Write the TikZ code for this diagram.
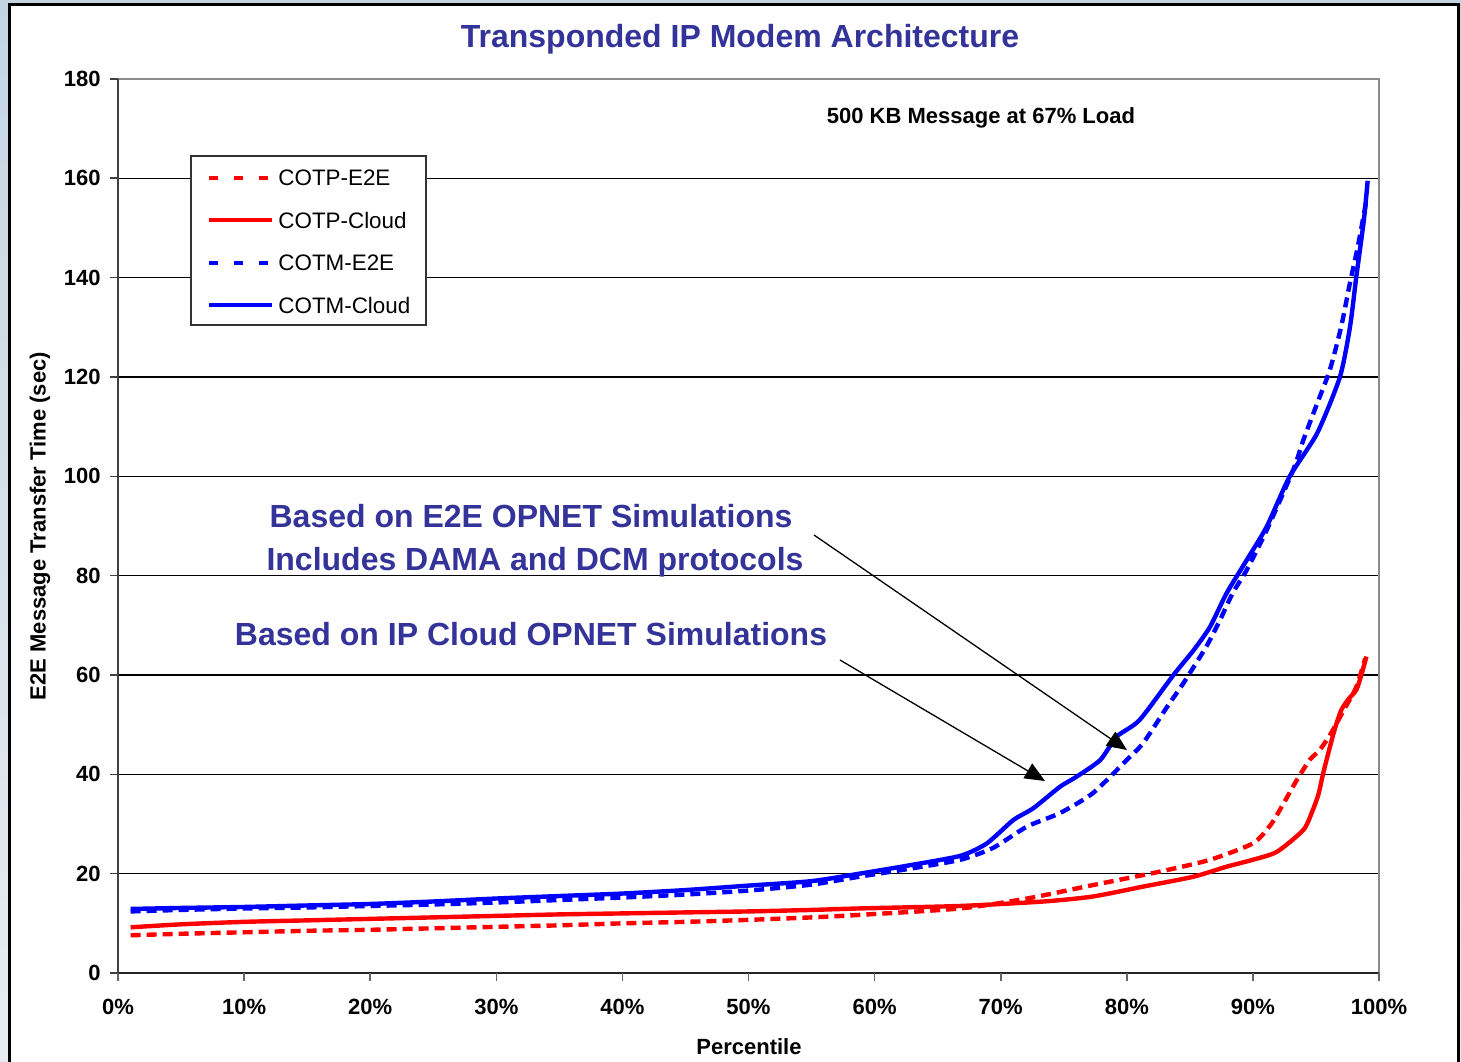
\documentclass[tikz,border=0pt]{standalone}
\usepackage{fontspec}
\setmainfont{Liberation Sans}
\usetikzlibrary{arrows.meta}
\definecolor{ttl}{RGB}{51,51,153}
\definecolor{bgtop}{RGB}{196,213,226}
\definecolor{bgbot}{RGB}{232,236,240}
\begin{document}
\begin{tikzpicture}[x=0.5pt,y=-0.5pt,
  ticklbl/.style={font=\bfseries\fontsize{11}{13}\selectfont, inner sep=0pt},
  legtxt/.style={font=\fontsize{11.2}{13}\selectfont, anchor=west, inner sep=0pt},
  note/.style={font=\bfseries\fontsize{16}{19}\selectfont, text=ttl, inner sep=0pt},
  gridln/.style={black, line width=0.6pt},
  curve/.style={line width=2.2pt, line join=round},
  dsh/.style={dash pattern=on 5pt off 3pt},
  legdsh/.style={dash pattern=on 4.5pt off 8pt},
  arr/.style={black, line width=0.65pt, -{Triangle[length=10pt,width=8.5pt]}}]
\useasboundingbox (0,0) rectangle (1461,1061);
\shade[top color=bgtop, bottom color=bgbot] (0,0) rectangle (1461,1061);
\draw[line width=1.5pt, fill=white] (9,4) rectangle (1458,1080);

% title
\node[font=\bfseries\fontsize{16}{19}\selectfont, text=ttl, inner sep=0pt] (title) at (740,39) {Transponded IP Modem Architecture};

% grid lines
\foreach \v in {20,40,...,160} {
  \draw[gridln] (118,{973-4.967*\v}) -- (1379,{973-4.967*\v});
}
% plot border
\draw[gray!90, line width=1.4pt] (118,79) -- (1379,79) -- (1379,973);
% axes
\draw[black!75, line width=1pt] (118,79) -- (118,973);
\draw[black!85, line width=1pt] (118,973) -- (1379,973);
\foreach \v in {0,20,...,180} {
  \draw[black!75, line width=0.8pt] (110,{973-4.967*\v}) -- (118,{973-4.967*\v});
  \node[ticklbl, anchor=east] (yl\v) at (101,{973-4.967*\v}) {\v};
}
\foreach \p in {0,10,...,100} {
  \draw[black!60, line width=0.8pt] ({118+12.61*\p},973) -- ({118+12.61*\p},981);
  \node[ticklbl] (xl\p) at ({118+12.61*\p},1007) {\p\%};
}
\node[ticklbl] (xlabel) at (749,1047) {Percentile};
\node[ticklbl, rotate=90] (ylabel) at (40,526) {E2E Message Transfer Time (sec)};
\node[ticklbl] (load) at (981,118) {500 KB Message at 67\% Load};

% legend
\draw[black!80, line width=0.6pt, fill=white] (191,156) rectangle (426,325);
\draw[red, line width=2pt, legdsh] (209,178) -- (272,178);
\node[legtxt] (l1) at (278,178) {COTP-E2E};
\draw[red, line width=2pt] (209,220) -- (272,220);
\node[legtxt] (l2) at (278,220) {COTP-Cloud};
\draw[blue, line width=2pt, legdsh] (209,263) -- (272,263);
\node[legtxt] (l3) at (278,263) {COTM-E2E};
\draw[blue, line width=2pt] (209,305) -- (272,305);
\node[legtxt] (l4) at (278,305) {COTM-Cloud};

% curves
\begin{scope}[shift={(59pt,-486.5pt)}, x=6.305pt, y=2.4835pt]
\draw[red, curve, dsh] plot[smooth, tension=0.4] coordinates {
 (1,7.6) (5,7.9) (10,8.2) (15,8.5) (20,8.7) (25,9.0) (30,9.3) (35,9.6) (40,10.0)
 (45,10.3) (50,10.7) (55,11.2) (58.8,11.7) (66.8,13.0) (72.1,15.0) (77.3,17.7)
 (82.6,20.4) (86.6,22.8) (90.0,26.1) (91.4,29.8) (92.4,34.0) (93.4,38.5)
 (94.5,42.9) (95.3,44.9) (96.2,48.3) (97.2,52.9) (98.2,57.6) (98.9,63.3)};
\draw[red, curve] plot[smooth, tension=0.4] coordinates {
 (1,9.2) (5,9.8) (10,10.3) (15,10.6) (20,10.9) (25,11.2) (30,11.5) (35,11.8)
 (40,12.0) (45,12.2) (50,12.4) (55,12.7) (58.8,13.0) (66.8,13.5) (73.4,14.4)
 (77.3,15.4) (81.3,17.4) (85.3,19.4) (87.9,21.4) (90.0,22.8) (91.9,24.4)
 (94.0,28.8) (94.7,32.5) (95.2,36.0) (95.6,40.5) (96.4,48.3) (97.0,52.9)
 (97.6,55.2) (98.2,57.0) (98.6,60.0) (99.0,63.7)};
\draw[blue, curve, dsh] plot[smooth, tension=0.4] coordinates {
 (1,12.4) (5,12.7) (10,13.0) (15,13.2) (20,13.5) (25,13.8) (30,14.2) (35,14.7)
 (40,15.2) (45,15.8) (50,16.6) (55,17.8) (58.8,19.4) (62.8,21.0) (66.8,22.8)
 (69.4,25.2) (72.1,29.5) (74.7,32.2) (77.3,36.2) (80.0,42.9) (81.3,46.3)
 (83.2,53.6) (84.5,58.4) (86.3,65.7) (87.4,71.1) (88.4,76.5) (89.5,81.1)
 (91.1,89.2) (93.2,101.3) (94.0,107.3) (95.1,114.7) (96.1,121.4) (97.0,130.1)
 (97.7,139.0) (98.3,146.0) (99.0,155.5)};
\draw[blue, curve] plot[smooth, tension=0.4] coordinates {
 (1,12.9) (5,13.1) (10,13.3) (15,13.6) (20,13.9) (25,14.4) (30,15.0) (35,15.5)
 (40,16.0) (45,16.7) (50,17.6) (55,18.5) (58.8,20.0) (62.8,21.7) (66.8,23.6)
 (68.9,26.1) (71.0,30.8) (72.6,33.2) (74.7,37.5) (76.0,39.5) (77.9,42.9)
 (79.2,47.6) (81.0,50.9) (83.7,60.0) (85.3,65.0) (86.6,69.7) (87.9,76.4)
 (89.5,83.1) (91.1,89.9) (92.9,99.9) (95.1,108.7) (96.9,120.0) (97.7,130.1)
 (98.2,140.2) (98.8,151.6) (99.1,159.5)};
\end{scope}

% annotations
\node[note] (n1) at (531,516) {Based on E2E OPNET Simulations};
\node[note] (n2) at (535,562) {Includes DAMA and DCM protocols};
\node[note] (n3) at (531,634) {Based on IP Cloud OPNET Simulations};
\coordinate (a1s) at (814,535);
\coordinate (a1e) at (1127,750);
\coordinate (a2s) at (840,660);
\coordinate (a2e) at (1045,781);
\draw[arr] (a1s) -- (a1e);
\draw[arr] (a2s) -- (a2e);
\end{tikzpicture}
\end{document}
